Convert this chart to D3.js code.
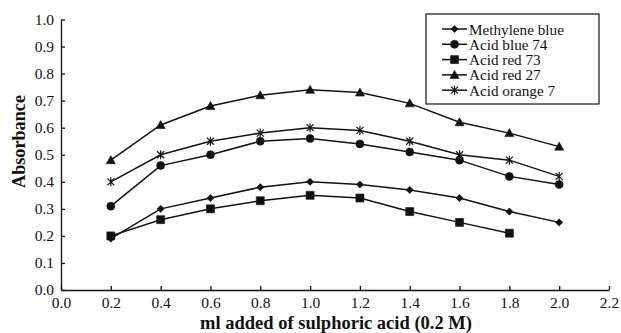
<!DOCTYPE html>
<html>
<head>
<meta charset="utf-8">
<script src="https://cdn.jsdelivr.net/npm/d3@7"></script>
<style>
  body { margin: 0; background: #fff; }
</style>
</head>
<body>
<svg></svg>
<script>
var xValues = [0.2, 0.4, 0.6, 0.8, 1.0, 1.2, 1.4, 1.6, 1.8, 2.0];
var methyleneBlue = [0.19, 0.30, 0.34, 0.38, 0.40, 0.39, 0.37, 0.34, 0.29, 0.25];
var acidBlue74 = [0.31, 0.46, 0.50, 0.55, 0.56, 0.54, 0.51, 0.48, 0.42, 0.39];
var acidRed73 = [0.20, 0.26, 0.30, 0.33, 0.35, 0.34, 0.29, 0.25, 0.21];
var acidRed27 = [0.48, 0.61, 0.68, 0.72, 0.74, 0.73, 0.69, 0.62, 0.58, 0.53];
var acidOrange7 = [0.40, 0.50, 0.55, 0.58, 0.60, 0.59, 0.55, 0.50, 0.48, 0.42];
var seriesNames = ["Methylene blue", "Acid blue 74", "Acid red 73", "Acid red 27", "Acid orange 7"];
var xTicks = [0.0, 0.2, 0.4, 0.6, 0.8, 1.0, 1.2, 1.4, 1.6, 1.8, 2.0, 2.2];
var yTicks = [0.0, 0.1, 0.2, 0.3, 0.4, 0.5, 0.6, 0.7, 0.8, 0.9, 1.0];

var series = [
  { name: seriesNames[0], values: methyleneBlue, marker: "diamond" },
  { name: seriesNames[1], values: acidBlue74, marker: "circle" },
  { name: seriesNames[2], values: acidRed73, marker: "square" },
  { name: seriesNames[3], values: acidRed27, marker: "triangle" },
  { name: seriesNames[4], values: acidOrange7, marker: "star" }
];

var serif = "Liberation Serif";
var svgWidth = 621, svgHeight = 333;
var svg = d3.select("svg").attr("width", svgWidth).attr("height", svgHeight);

var xScale = d3.scaleLinear().domain([0, 2.2]).range([61, 609]);
var yScale = d3.scaleLinear().domain([0, 1.0]).range([290, 19.5]);

// axes, ticks pointing inward
var xAxis = d3.axisBottom(xScale).tickValues(xTicks).tickFormat(d3.format(".1f"))
  .tickSizeInner(-4).tickSizeOuter(0).tickPadding(6.5);
var yAxis = d3.axisLeft(yScale).tickValues(yTicks).tickFormat(d3.format(".1f"))
  .tickSizeInner(-4).tickSizeOuter(0).tickPadding(7);

var gx = svg.append("g").attr("transform", "translate(0,290)").call(xAxis);
var gy = svg.append("g").attr("transform", "translate(61,0)").call(yAxis);
[gx, gy].forEach(function (g) {
  g.attr("font-family", serif).attr("font-size", 15.5);
  g.selectAll("path, line").attr("stroke", "#111").attr("stroke-width", 1.3);
  g.selectAll("text").attr("fill", "#111");
});

svg.append("text")
  .attr("x", 336).attr("y", 329)
  .attr("text-anchor", "middle")
  .attr("font-family", serif).attr("font-size", 18.5).attr("font-weight", "bold")
  .attr("fill", "#111")
  .text("ml added of sulphoric acid (0.2 M)");

svg.append("text")
  .attr("transform", "translate(25,141.5) rotate(-90)")
  .attr("text-anchor", "middle")
  .attr("font-family", serif).attr("font-size", 18.2).attr("font-weight", "bold")
  .attr("fill", "#111")
  .text("Absorbance");

function markerPath(type) {
  if (type === "diamond") return "M0,-3.6L3.6,0L0,3.6L-3.6,0Z";
  if (type === "square") return "M-4,-4L4,-4L4,4L-4,4Z";
  if (type === "triangle") return "M0,-4.5L4.5,3.5L-4.5,3.5Z";
  if (type === "circle") return d3.symbol(d3.symbolCircle, 50)();
  return "M-3.5,-3.5L3.5,3.5M-3.5,3.5L3.5,-3.5M0,-4.5L0,4.5";
}

var line = d3.line()
  .x(function (d) { return xScale(d.x); })
  .y(function (d) { return yScale(d.y); });

series.forEach(function (s) {
  var pts = s.values.map(function (v, i) { return { x: xValues[i], y: v }; });
  svg.append("path")
    .datum(pts)
    .attr("d", line)
    .attr("fill", "none")
    .attr("stroke", "#111")
    .attr("stroke-width", 1.5);
  svg.selectAll(null)
    .data(pts)
    .enter()
    .append("path")
    .attr("transform", function (d) { return "translate(" + xScale(d.x) + "," + yScale(d.y) + ")"; })
    .attr("d", markerPath(s.marker))
    .attr("fill", s.marker === "star" ? "none" : "#111")
    .attr("stroke", "#111")
    .attr("stroke-width", s.marker === "star" ? 1.2 : 0.6);
});

// legend
var legend = svg.append("g");
legend.append("rect")
  .attr("x", 426).attr("y", 14).attr("width", 173).attr("height", 90)
  .attr("fill", "#fff").attr("stroke", "#111").attr("stroke-width", 1.2);

series.forEach(function (s, i) {
  var ly = 29 + i * 15.3;
  legend.append("line")
    .attr("x1", 442).attr("x2", 467).attr("y1", ly).attr("y2", ly)
    .attr("stroke", "#111").attr("stroke-width", 1.5);
  legend.append("path")
    .attr("transform", "translate(454.5," + ly + ")")
    .attr("d", markerPath(s.marker))
    .attr("fill", s.marker === "star" ? "none" : "#111")
    .attr("stroke", "#111")
    .attr("stroke-width", s.marker === "star" ? 1.2 : 0.6);
  legend.append("text")
    .attr("x", 469).attr("y", ly + 5.5)
    .attr("font-family", serif).attr("font-size", 15.2)
    .attr("fill", "#111")
    .text(s.name);
});
</script>
</body>
</html>
